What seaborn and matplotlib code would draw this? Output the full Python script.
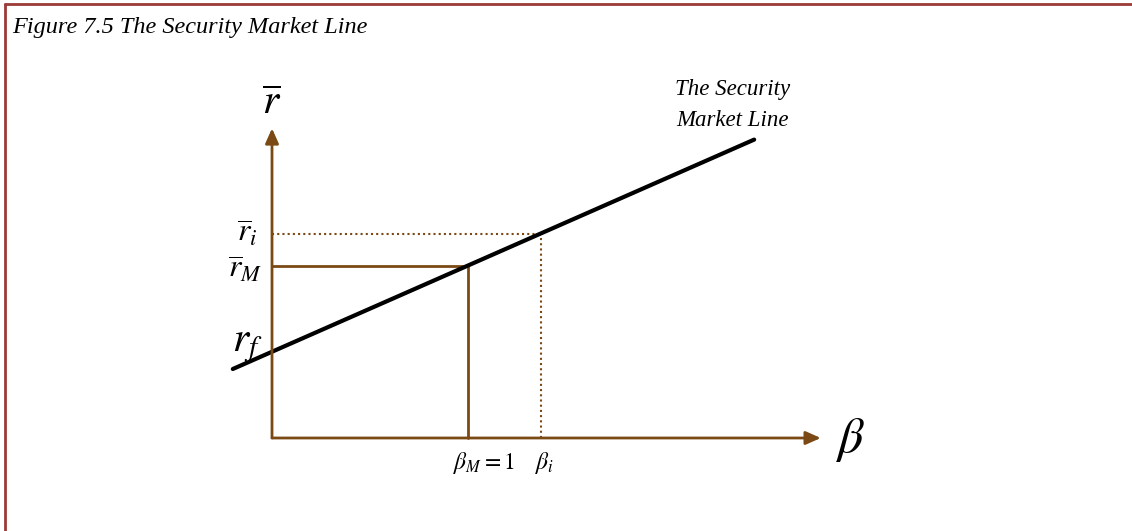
import numpy as np
import pandas as pd
import seaborn as sns
import matplotlib.pyplot as plt
from matplotlib.lines import Line2D

# data (beta, expected return) in chart units
beta_line = [-0.2, 2.46]
rf = 0.44
slope = 0.44
beta_m = 1.0
beta_i = 1.37
r_m = rf + slope * beta_m
r_i = rf + slope * beta_i
x_axis_end = 2.8
y_axis_end = 1.58

sml = pd.DataFrame({"beta": beta_line, "ret": [rf + slope * b for b in beta_line]})

sns.set_style("white")
plt.rcParams["mathtext.fontset"] = "stix"
plt.rcParams["text.color"] = "black"

brown = "#7b4a14"
frame = "#9b3a37"

fig = plt.figure(figsize=(11.32, 5.31), dpi=100)
ax = fig.add_axes([0, 0, 1, 1])
scale = 196.0
ax.set_xlim(-272 / scale, (1132 - 272) / scale)
ax.set_ylim((438 - 531) / scale, 438 / scale)
ax.axis("off")

# axes with arrows
ax.annotate("", xy=(x_axis_end, 0), xytext=(0, 0),
            arrowprops=dict(arrowstyle="-|>,head_length=0.9,head_width=0.4",
                            color=brown, lw=2, shrinkA=0, shrinkB=0))
ax.annotate("", xy=(0, y_axis_end), xytext=(0, 0),
            arrowprops=dict(arrowstyle="-|>,head_length=0.9,head_width=0.4",
                            color=brown, lw=2, shrinkA=0, shrinkB=0))

# market portfolio guides
ax.plot([0, beta_m], [r_m, r_m], color=brown, lw=2)
ax.plot([beta_m, beta_m], [0, r_m], color=brown, lw=2)
# asset i guides (dotted)
ax.plot([0, beta_i], [r_i, r_i], color=brown, lw=1.5, ls=(0, (1, 1.5)))
ax.plot([beta_i, beta_i], [0, r_i], color=brown, lw=1.5, ls=(0, (1, 1.5)))

# security market line
sns.lineplot(data=sml, x="beta", y="ret", ax=ax, color="black", lw=3)
ax.set_xlabel("")
ax.set_ylabel("")

# labels
ax.text(0, y_axis_end + 0.03, r"$\overline{r}$", fontsize=30, ha="center", va="bottom")
ax.text(-0.07, r_i, r"$\overline{r}_i$", fontsize=23, ha="right", va="center")
ax.text(-0.05, r_m - 0.02, r"$\overline{r}_M$", fontsize=23, ha="right", va="center")
ax.text(-0.05, rf + 0.04, r"$r_f$", fontsize=30, ha="right", va="center")
ax.text(x_axis_end + 0.07, -0.01, r"$\beta$", fontsize=36, ha="left", va="center")
ax.text(beta_m + 0.24, -0.06, r"$\beta_M = 1$", fontsize=17, ha="right", va="top")
ax.text(beta_i + 0.02, -0.06, r"$\beta_i$", fontsize=17, ha="center", va="top")
ax.text(2.35, 1.70, "The Security\nMarket Line", fontsize=16.5, style="italic",
        family="Liberation Serif", ha="center", va="center", linespacing=1.65)

fig.text(12 / 1132, 1 - 28 / 531, "Figure 7.5 The Security Market Line",
         fontsize=17.5, style="italic", family="Liberation Serif", ha="left", va="center")

# page frame
fig.add_artist(Line2D([5 / 1132, 1], [1 - 4 / 531, 1 - 4 / 531], color=frame, lw=2))
fig.add_artist(Line2D([5 / 1132, 5 / 1132], [0, 1 - 4 / 531], color=frame, lw=2))

fig.savefig("out.png", dpi=100)
